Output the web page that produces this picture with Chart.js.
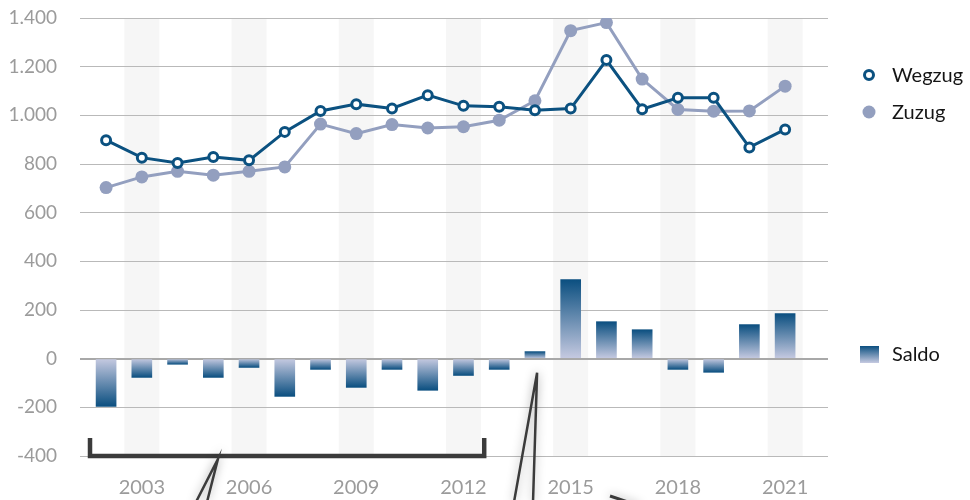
<!DOCTYPE html>
<html>
<head>
<meta charset="utf-8">
<script src="https://cdn.jsdelivr.net/npm/chart.js@4.4.1/dist/chart.umd.min.js"></script>
<style>
	html, body { margin: 0; padding: 0; background: #fff; }
	#wrap { width: 970px; height: 500px; position: relative; }
</style>
</head>
<body>
<div id="wrap"><canvas id="migrationChart" width="970" height="500"></canvas></div>
<script>
var years = [2002, 2003, 2004, 2005, 2006, 2007, 2008, 2009, 2010, 2011, 2012, 2013, 2014, 2015, 2016, 2017, 2018, 2019, 2020, 2021];
var wegzug = [898, 826, 804, 829, 815, 932, 1018, 1046, 1028, 1083, 1039, 1035, 1021, 1028, 1227, 1025, 1072, 1072, 868, 942];
var zuzug = [703, 747, 770, 754, 770, 788, 964, 925, 962, 948, 953, 980, 1060, 1348, 1381, 1149, 1024, 1017, 1018, 1120];
var saldo = [-196, -77, -23, -77, -36, -155, -44, -118, -44, -130, -69, -44, 29, 325, 152, 119, -44, -56, 140, 185];
var xTicks = [2003, 2006, 2009, 2012, 2015, 2018, 2021];
var yTicks = [-400, -200, 0, 200, 400, 600, 800, 1000, 1200, 1400];

var blue = '#0b5180';
var lilac = '#939fbf';
var barDark = '#0b4f80';
var barLight = '#c6cae1';
var fontFamily = 'Lato, "Open Sans", sans-serif';

var toPoints = function(values) {
	return years.map(function(y, i) { return { x: y, y: values[i] }; });
};

var fmt = function(v) {
	var s = String(Math.abs(v)).replace(/\B(?=(\d{3})+(?!\d))/g, '.');
	return (v < 0 ? '-' : '') + s;
};

// light grey column behind every labelled year
var bandPlugin = {
	id: 'bands',
	beforeDraw: function(chart) {
		var ctx = chart.ctx, x = chart.scales.x, area = chart.chartArea;
		ctx.save();
		ctx.fillStyle = '#f6f6f6';
		xTicks.forEach(function(yr) {
			var cx = x.getPixelForValue(yr);
			ctx.fillRect(cx - 17.5, area.top, 35, area.bottom - area.top);
		});
		ctx.restore();
	}
};

// legend on the right + the cut-off callout marks
var extrasPlugin = {
	id: 'extras',
	afterDraw: function(chart) {
		var ctx = chart.ctx, x = chart.scales.x, y = chart.scales.y;
		ctx.save();

		// legend
		ctx.font = '20px ' + fontFamily;
		ctx.textBaseline = 'middle';
		ctx.textAlign = 'left';

		ctx.beginPath();
		ctx.arc(869, 75, 4.5, 0, Math.PI * 2);
		ctx.fillStyle = '#fff';
		ctx.fill();
		ctx.lineWidth = 3;
		ctx.strokeStyle = blue;
		ctx.stroke();
		ctx.fillStyle = '#151515';
		ctx.fillText('Wegzug', 892, 76);

		ctx.beginPath();
		ctx.arc(869, 112, 6.5, 0, Math.PI * 2);
		ctx.fillStyle = lilac;
		ctx.fill();
		ctx.fillStyle = '#151515';
		ctx.fillText('Zuzug', 892, 113);

		var g = ctx.createLinearGradient(0, 346, 0, 363);
		g.addColorStop(0, barDark);
		g.addColorStop(1, barLight);
		ctx.fillStyle = g;
		ctx.fillRect(860, 346, 19, 17);
		ctx.fillStyle = '#151515';
		ctx.fillText('Saldo', 892, 355);

		// callout bracket and tails
		ctx.strokeStyle = '#3b3b3b';
		ctx.lineCap = 'butt';
		ctx.lineJoin = 'miter';
		var bx0 = x.getPixelForValue(2001.55), bx1 = x.getPixelForValue(2012.58);
		var by = y.getPixelForValue(-400), byTop = y.getPixelForValue(-326);
		ctx.lineWidth = 4.5;
		ctx.beginPath();
		ctx.moveTo(bx0, byTop);
		ctx.lineTo(bx0, by);
		ctx.lineTo(bx1, by);
		ctx.lineTo(bx1, byTop);
		ctx.stroke();

		ctx.shadowColor = 'rgba(0,0,0,0.35)';
		ctx.shadowBlur = 10;
		ctx.lineWidth = 2.5;
		var tip1 = x.getPixelForValue(2005.13);
		ctx.beginPath();
		ctx.moveTo(196, 502);
		ctx.lineTo(tip1, by + 3);
		ctx.lineTo(207, 502);
		ctx.stroke();

		var tip2 = x.getPixelForValue(2014.06), tip2y = y.getPixelForValue(-58);
		ctx.beginPath();
		ctx.moveTo(514, 502);
		ctx.lineTo(tip2, tip2y);
		ctx.lineTo(533, 502);
		ctx.stroke();

		ctx.lineWidth = 3;
		ctx.beginPath();
		ctx.moveTo(610, 496);
		ctx.lineTo(640, 506);
		ctx.stroke();

		ctx.restore();
	}
};

var chart = new Chart(document.getElementById('migrationChart'), {
	type: 'line',
	data: {
		datasets: [{
			label: 'Wegzug',
			data: toPoints(wegzug),
			borderColor: blue,
			borderWidth: 3,
			pointRadius: 4.5,
			pointBorderWidth: 3,
			pointBackgroundColor: '#fff',
			pointBorderColor: blue,
			tension: 0,
			order: 0
		}, {
			label: 'Zuzug',
			data: toPoints(zuzug),
			borderColor: lilac,
			borderWidth: 3,
			pointRadius: 6.5,
			pointBorderWidth: 0,
			pointBackgroundColor: lilac,
			tension: 0,
			order: 1
		}, {
			type: 'bar',
			label: 'Saldo',
			data: toPoints(saldo),
			barThickness: 20,
			borderWidth: 0,
			order: 2,
			backgroundColor: function(c) {
				var ch = c.chart;
				if (!ch.chartArea || !c.raw) return barDark;
				var ys = ch.scales.y;
				var p0 = ys.getPixelForValue(0), p1 = ys.getPixelForValue(c.raw.y);
				if (Math.abs(p1 - p0) < 1) return barDark;
				var g = ch.ctx.createLinearGradient(0, p1, 0, p0);
				g.addColorStop(0, barDark);
				g.addColorStop(1, barLight);
				return g;
			}
		}]
	},
	options: {
		responsive: false,
		animation: false,
		layout: { padding: { top: 18, right: 142, bottom: -20, left: 0 } },
		plugins: {
			legend: { display: false },
			tooltip: { enabled: false }
		},
		scales: {
			x: {
				type: 'linear',
				offset: false,
				min: 2001.27,
				max: 2022.2,
				grid: { display: false, drawTicks: false, offset: false },
				border: { display: false },
				afterBuildTicks: function(scale) {
					scale.ticks = xTicks.map(function(v) { return { value: v }; });
				},
				ticks: {
					padding: 20,
					color: '#9b9b9b',
					font: { family: fontFamily, size: 20 },
					callback: function(v) { return String(v); }
				}
			},
			y: {
				min: -400,
				max: 1400,
				afterBuildTicks: function(scale) {
					scale.ticks = yTicks.map(function(v) { return { value: v }; });
				},
				afterFit: function(scale) {
					scale.width = 80;
					scale.paddingTop = 0;
					scale.paddingBottom = 0;
				},
				grid: {
					drawTicks: false,
					color: function(c) { return c.tick && c.tick.value === 0 ? '#a8a8a8' : '#b9b9b9'; },
					lineWidth: function(c) { return c.tick && c.tick.value === 0 ? 2 : 1; }
				},
				border: { display: false },
				ticks: {
					padding: 23,
					color: '#9b9b9b',
					font: { family: fontFamily, size: 19 },
					callback: function(v) { return fmt(v); }
				}
			}
		}
	},
	plugins: [bandPlugin, extrasPlugin]
});
</script>
</body>
</html>
